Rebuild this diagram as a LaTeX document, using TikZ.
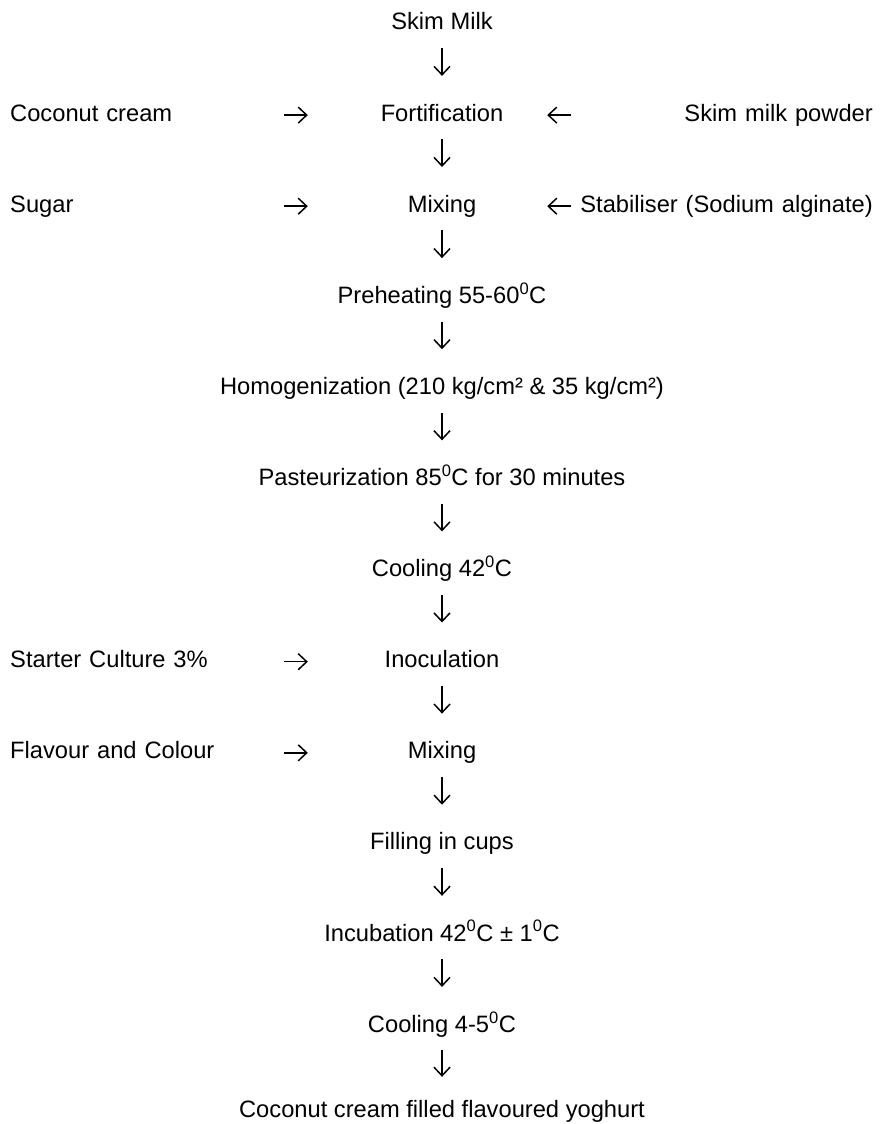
\documentclass[tikz,border=0pt]{standalone}
\usepackage{fontspec}
\setmainfont{Liberation Sans}
\usetikzlibrary{arrows.meta}
\begin{document}
\begin{tikzpicture}[x=1pt, y=-1pt, every node/.style={font=\fontsize{23.7}{28}\selectfont, inner sep=0pt, text height=17pt, text depth=5pt},
  stepbox/.style={anchor=base, minimum width=210pt},
  inbox/.style={anchor=base west, text width=274pt, align=left},
  addbox/.style={anchor=base east, text width=302pt, align=right},
  flow/.style={-{Straight Barb[length=8.5pt,width=16pt]}, line width=1.5pt},
  vflow/.style={flow, shorten <=13pt, shorten >=28pt},
  lflow/.style={flow, shorten >=29pt}]
\useasboundingbox (0,0) rectangle (889,1124);
% main line
\node[stepbox] (milk) at (442,30) {Skim Milk};
\node[stepbox] (fort) at (442,121.1) {Fortification};
\node[stepbox] (mix) at (442,212.2) {Mixing};
\node[stepbox] (preheat) at (442,303.3) {Preheating 55-60\textsuperscript{0}C};
\node[stepbox] (homog) at (442,394.4) {Homogenization (210 kg/cm² \& 35 kg/cm²)};
\node[stepbox] (pasteur) at (442,485.5) {Pasteurization 85\textsuperscript{0}C for 30 minutes};
\node[stepbox] (cool) at (442,576.6) {Cooling 42\textsuperscript{0}C};
\node[stepbox] (inoc) at (442,667.7) {Inoculation};
\node[stepbox] (flavmix) at (442,758.8) {Mixing};
\node[stepbox] (fill) at (442,849.9) {Filling in cups};
\node[stepbox] (incub) at (442,941) {Incubation 42\textsuperscript{0}C ± 1\textsuperscript{0}C};
\node[stepbox] (chill) at (442,1032.1) {Cooling 4-5\textsuperscript{0}C};
\node[stepbox] (yoghurt) at (442,1117) {Coconut cream filled flavoured yoghurt};
% additions
\node[inbox] (cream) at (10,121.1) {Coconut cream};
\node[addbox] (powder) at (873,121.1) {Skim milk powder};
\node[inbox] (sugar) at (10,212.2) {Sugar};
\node[addbox] (stab) at (873,212.2) {Stabiliser (Sodium alginate)};
\node[inbox] (starter) at (10,667.7) {Starter Culture 3\%};
\node[inbox] (flavour) at (10,758.8) {Flavour and Colour};
% arrows
\draw[vflow] (milk.south) -- (fort.north);
\draw[vflow] (fort.south) -- (mix.north);
\draw[vflow] (mix.south) -- (preheat.north);
\draw[vflow] (preheat.south) -- (homog.north);
\draw[vflow] (homog.south) -- (pasteur.north);
\draw[vflow] (pasteur.south) -- (cool.north);
\draw[vflow] (cool.south) -- (inoc.north);
\draw[vflow] (inoc.south) -- (flavmix.north);
\draw[vflow] (flavmix.south) -- (fill.north);
\draw[vflow] (fill.south) -- (incub.north);
\draw[vflow] (incub.south) -- (chill.north);
\draw[vflow, shorten >=23pt] (chill.south) -- (yoghurt.north);
\draw[lflow] (cream.east) -- (fort.west);
\draw[flow] (powder.west) -- (fort.east);
\draw[lflow] (sugar.east) -- (mix.west);
\draw[flow] (stab.west) -- (mix.east);
\draw[lflow] (starter.east) -- (inoc.west);
\draw[lflow] (flavour.east) -- (flavmix.west);
\end{tikzpicture}
\end{document}
